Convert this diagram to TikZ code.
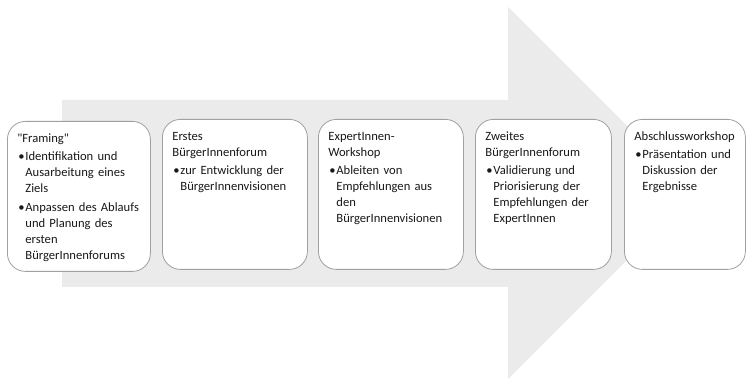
\documentclass[tikz,border=0pt]{standalone}
\usepackage{fontspec}
\setmainfont{Carlito}[Ligatures=TeXOff]
\usepackage{tikz}
\usetikzlibrary{positioning}

\definecolor{arrowgray}{RGB}{235,235,235}
\definecolor{framegray}{RGB}{160,160,160}
\definecolor{textdark}{RGB}{25,25,25}

\newcommand{\stageitem}[1]{\par\vskip2pt\noindent\makebox[8pt][l]{\hspace{1pt}•}%
   \begin{tabular}[t]{@{}l@{}}#1\end{tabular}}

\tikzset{
  stagebox/.style={draw=framegray,fill=white,line width=0.8pt,rounded corners=18pt,
    anchor=north west,inner xsep=10pt,inner ysep=12pt,text height=9pt,text depth=117pt,
    text=textdark,font=\fontsize{12.6}{16}\selectfont}
}

\begin{document}
\begin{tikzpicture}[x=1pt,y=1pt]
   \useasboundingbox (0,0) rectangle (748,-379);

   \fill[arrowgray] (62,-100) -- (508,-100) -- (508,-7) -- (694,-193) -- (508,-379)
      -- (508,-287) -- (62,-287) -- cycle;

   \node[stagebox,text width=123pt] at (7,-121) (framing) {\raggedright "Framing"
      \stageitem{Identifikation und\\ Ausarbeitung eines\\ Ziels}
      \stageitem{Anpassen des Ablaufs\\ und Planung des\\ ersten\\ BürgerInnenforums}};
   \node[stagebox,text width=125pt] at (162,-119) (forum1) {\raggedright Erstes\\ BürgerInnenforum
      \stageitem{zur Entwicklung der\\ BürgerInnenvisionen}};
   \node[stagebox,text width=125pt] at (318,-119) (workshop) {\raggedright ExpertInnen-\\ Workshop
      \stageitem{Ableiten von\\ Empfehlungen aus\\ den\\ BürgerInnenvisionen}};
   \node[stagebox,text width=116pt] at (475,-119) (forum2) {\raggedright Zweites\\ BürgerInnenforum
      \stageitem{Validierung und\\ Priorisierung der\\ Empfehlungen der\\ ExpertInnen}};
   \node[stagebox,text width=101pt] at (624,-119) (final) {\raggedright Abschlussworkshop
      \stageitem{Präsentation und\\ Diskussion der\\ Ergebnisse}};
\end{tikzpicture}
\end{document}
